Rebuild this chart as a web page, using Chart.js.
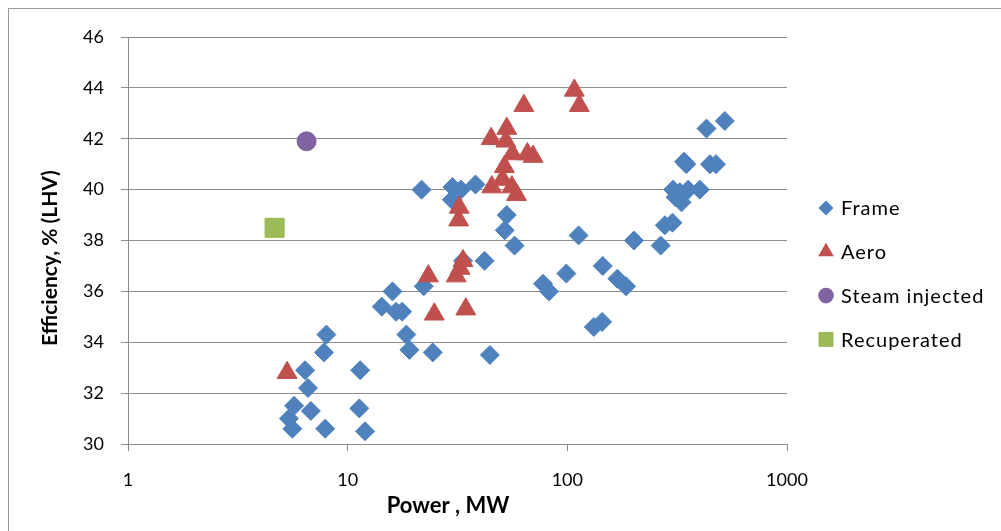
<!DOCTYPE html>
<html>
<head>
<meta charset="utf-8">
<title>Gas turbine efficiency vs power</title>
<script src="https://cdn.jsdelivr.net/npm/chart.js@4.4.1/dist/chart.umd.min.js"></script>
<style>
  body { margin: 0; background: #fff; }
  #wrap { position: relative; width: 1001px; height: 531px; overflow: hidden; }
  #frame { position: absolute; left: 8px; top: 8px; width: 1100px; height: 600px;
           border-left: 1px solid #9b9b9b; border-top: 1px solid #9b9b9b; }
  canvas { position: absolute; left: 0; top: 0; }
</style>
</head>
<body>
<div id="wrap">
  <div id="frame"></div>
  <canvas id="effChart" width="1001" height="531"></canvas>
</div>
<script>
// Data (power in MW, efficiency in % LHV)
const frameX = [5.4, 5.6, 5.7, 6.4, 6.6, 6.8, 7.8, 8.0, 7.9, 11.4, 11.3, 12.0,
  14.3, 16.0, 16.6, 17.7, 18.5, 19.1, 24.4, 22.2, 21.7, 30.0, 32.8, 38.2, 29.8,
  33.5, 42.0, 44.4, 53.0, 51.9, 57.5, 77.5, 82.5, 99, 112.5, 145, 169, 185, 132,
  144, 201, 266, 278, 301, 303, 311, 325, 331, 355, 401, 340, 348, 430, 521, 446, 475];
const frameY = [31.0, 30.6, 31.5, 32.9, 32.2, 31.3, 33.6, 34.3, 30.6, 32.9, 31.4, 30.5,
  35.4, 36.0, 35.2, 35.2, 34.3, 33.7, 33.6, 36.2, 40.0, 40.1, 40.0, 40.2, 39.6,
  37.2, 37.2, 33.5, 39.0, 38.4, 37.8, 36.3, 36.0, 36.7, 38.2, 37.0, 36.5, 36.2, 34.6,
  34.8, 38.0, 37.8, 38.6, 38.7, 40.0, 39.7, 39.9, 39.5, 40.0, 40.0, 41.1, 41.0, 42.4, 42.7, 41.0, 41.0];

const aeroX = [5.3, 23.3, 24.8, 31.2, 32.5, 33.5, 34.5, 32.0, 32.2, 45.0, 45.3, 50.7,
  51.7, 52.5, 53.0, 55.9, 56.2, 58.7, 63.4, 65.8, 69.8, 107.6, 113.4];
const aeroY = [32.8, 36.6, 35.1, 36.6, 36.9, 37.2, 35.3, 38.8, 39.3, 42.0, 40.1, 40.4,
  40.9, 41.9, 42.4, 40.1, 41.4, 39.8, 43.3, 41.4, 41.3, 43.9, 43.3];

const steamX = [6.5];
const steamY = [41.9];

const recupX = [4.65];
const recupY = [38.5];

const xTicks = [1, 10, 100, 1000];
const xTitle = "Power , MW";
const yTitle = "Efficiency, % (LHV)";

const gridColor = "#8c8c8c";
const family = "Lato, 'Open Sans', sans-serif";
const font = { family: family, size: 18 };

function points(xs, ys) {
  return xs.map((x, i) => ({ x: x, y: ys[i] }));
}

// Axis titles and the right-hand legend, placed where the original has them
const legendRadius = [7.5, 9, 7.8, 10.6];
const chartText = {
  id: "chartText",
  afterDraw(chart) {
    const ctx = chart.ctx;
    ctx.save();
    ctx.fillStyle = "#000";
    ctx.textAlign = "center";
    ctx.textBaseline = "middle";

    // axis titles
    ctx.font = "bold 22px " + family;
    ctx.fillText(xTitle, 448, 506);
    ctx.save();
    ctx.font = "bold 21px " + family;
    ctx.translate(50, 258);
    ctx.rotate(-Math.PI / 2);
    ctx.fillText(yTitle, 0, 0);
    ctx.restore();

    // legend
    ctx.textAlign = "left";
    ctx.font = "20px " + family;
    ctx.letterSpacing = "1px";
    chart.data.datasets.forEach((ds, i) => {
      const y = 208 + i * 43.8;
      ctx.fillStyle = ds.backgroundColor;
      Chart.helpers.drawPoint(ctx, {
        pointStyle: ds.pointStyle, radius: legendRadius[i], rotation: 0, borderWidth: 0
      }, 826, y);
      ctx.fillStyle = "#000";
      ctx.fillText(ds.label, 841, y + 1);
    });
    ctx.restore();
  }
};

document.addEventListener("DOMContentLoaded", function () {
  const ctx = document.getElementById("effChart").getContext("2d");
  new Chart(ctx, {
    type: "scatter",
    data: {
      datasets: [
        {
          label: "Frame",
          data: points(frameX, frameY),
          pointStyle: "rectRot",
          backgroundColor: "#4F81BD",
          borderColor: "#4F81BD",
          borderWidth: 1,
          pointRadius: 9.5,
          order: 4,
        },
        {
          label: "Aero",
          data: points(aeroX, aeroY),
          pointStyle: "triangle",
          backgroundColor: "#C0504D",
          borderColor: "#C0504D",
          borderWidth: 1,
          pointRadius: 11.5,
          order: 3,
        },
        {
          label: "Steam injected",
          data: points(steamX, steamY),
          pointStyle: "circle",
          backgroundColor: "#8064A2",
          borderColor: "#8064A2",
          borderWidth: 1,
          pointRadius: 9.5,
          order: 2,
        },
        {
          label: "Recuperated",
          data: points(recupX, recupY),
          pointStyle: "rect",
          backgroundColor: "#9BBB59",
          borderColor: "#9BBB59",
          borderWidth: 1,
          pointRadius: 13.5,
          order: 1,
        },
      ],
    },
    options: {
      responsive: false,
      animation: false,
      layout: { padding: { left: 0, top: 37, right: 214, bottom: 0 } },
      plugins: {
        legend: { display: false },
        tooltip: { enabled: false },
      },
      scales: {
        x: {
          type: "logarithmic",
          min: 1,
          max: 1000,
          afterBuildTicks: function (scale) {
            scale.ticks = xTicks.map((v) => ({ value: v }));
          },
          afterFit: function (scale) {
            scale.height = 87;
          },
          ticks: {
            autoSkip: false,
            maxRotation: 0,
            padding: 18,
            color: "#000",
            font: font,
            callback: function (value) {
              return String(value);
            },
          },
          grid: { drawOnChartArea: false, tickLength: 7, color: gridColor },
          border: { color: gridColor },
        },
        y: {
          min: 30,
          max: 46,
          afterFit: function (scale) {
            scale.width = 128;
          },
          ticks: { stepSize: 2, padding: 17, color: "#000", font: font },
          grid: { color: gridColor, tickLength: 7 },
          border: { color: gridColor },
        },
      },
    },
    plugins: [chartText],
  });
});
</script>
</body>
</html>
